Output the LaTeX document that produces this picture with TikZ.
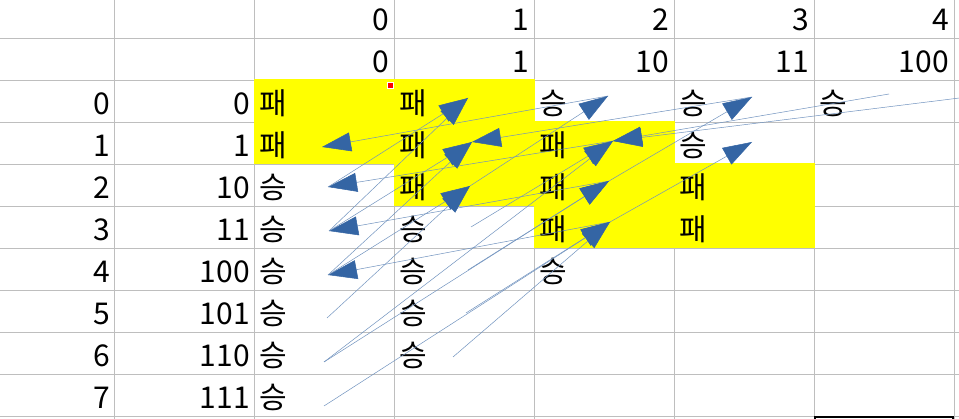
\documentclass[tikz,border=0pt]{standalone}
\usepackage{fontspec}
\setmainfont{Noto Sans CJK KR}
\usetikzlibrary{arrows.meta}
\definecolor{gridgray}{RGB}{190,190,190}
\definecolor{losefill}{RGB}{255,255,0}
\definecolor{tracer}{RGB}{52,101,164}

\begin{document}
\begin{tikzpicture}[x=1pt,y=-1pt,
  every node/.style={font=\fontsize{30}{36}\selectfont,inner sep=0pt},
  num/.style={anchor=base east},
  res/.style={anchor=base west},
  tracearrow/.style={draw=tracer!70,line width=0.5pt,
    -{Triangle[length=29pt,width=19pt,color=tracer]}}]
\fill[white] (0,0) rectangle (959,419);
\useasboundingbox (0,0) rectangle (959,419);
% sheet grid
\foreach \x in {114,254,...,954} \draw[gridgray] (\x,0) -- (\x,419);
\foreach \y in {38,80,...,416} \draw[gridgray] (0,\y) -- (959,\y);
% losing cells
\fill[losefill] (253.5,79.5) rectangle (394.5,164.5);
\fill[losefill] (393.5,79.5) rectangle (534.5,206.5);
\fill[losefill] (533.5,121.5) rectangle (674.5,248.5);
\fill[losefill] (673.5,163.5) rectangle (814.5,248.5);
\filldraw[fill=red,draw=white] (387,82) rectangle (393,88);
\draw[line width=2pt] (815,417) rectangle (953,440);
% headers
\foreach \j/\t in {0/0,1/1,2/2,3/3,4/4}
  \node[num] (h-\j) at (389+140*\j,31) {\t};
\foreach \j/\t in {0/0,1/1,2/10,3/11,4/100}
  \node[num] (b-\j) at (389+140*\j,73) {\t};
\foreach \i/\t in {0/0,1/1,2/10,3/11,4/100,5/101,6/110,7/111} {
  \node[num] (r-\i) at (110,115+42*\i) {\i};
  \node[num] (k-\i) at (250,115+42*\i) {\t};
}
% results
\foreach \i/\row in {0/{패,패,승,승,승},1/{패,패,패,승},2/{승,패,패,패},
    3/{승,승,패,패},4/{승,승,승},5/{승,승},6/{승,승},7/{승}}
  \foreach \t [count=\j from 0] in \row
    \node[res] (d-\i-\j) at (259+140*\j,115+42*\i) {\t};
% tracer ends
\foreach \n/\x/\y in {1-0/322/147,2-0/328/187,3-0/329/231,4-0/328/275,
    5-0/327/318,6-0/324/362,7-0/324/406,
    0-1/468/98,1-1/472/142,2-1/470/186,3-1/471/227,4-1/468/270,5-1/466/313,6-1/453/357,
    0-2/608/96,1-2/613/141,2-2/609/181,3-2/610/222,
    0-3/752/97,1-3/752/142,0-4/889/94,0-5/1032/89}
  \coordinate (c-\n) at (\x,\y);
\foreach \s/\e in {0-2/1-0,1-2/2-0,2-2/3-0,3-2/4-0,0-3/1-1,0-4/1-2,0-5/1-2}
  \draw[tracearrow] (c-\s) -- (c-\e);
\foreach \s/\e in {3-0/0-1,4-0/1-1,5-0/2-1,6-1/3-2,6-0/2-2,7-0/3-2,6-0/1-2}
  \draw[tracearrow] (c-\s) -- (c-\e);
\foreach \s/\e in {2-0/0-1,3-0/1-1,4-0/2-1,2-1/0-2,3-1/1-2,4-1/2-2,5-1/3-2,2-2/0-3,3-2/1-3}
  \draw[tracearrow] (c-\s) -- (c-\e);
\end{tikzpicture}
\end{document}
